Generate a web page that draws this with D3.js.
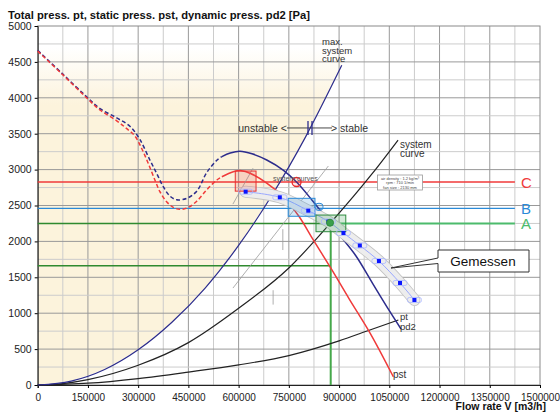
<!DOCTYPE html>
<html>
<head>
<meta charset="utf-8">
<script src="https://cdn.jsdelivr.net/npm/d3@7"></script>
<style>
  body { margin: 0; background: #fff; }
  svg { display: block; font-family: "Liberation Sans", Arial, sans-serif; }
</style>
</head>
<body>
<svg width="560" height="412"></svg>
<script>
// fan curves (flow in m3/h, pressure in Pa)
var ptFlow  = [0, 75000, 146000, 186000, 236000, 276000, 305000, 335000, 355000, 375000, 395000, 415000, 445000, 475000, 505000, 535000, 550000,
               575000, 604000, 640000, 684000, 733000, 773000, 820000, 873000, 903000, 950000, 1000000, 1050000, 1085000];
var ptPress = [4660, 4330, 4015, 3850, 3720, 3600, 3420, 3134, 2950, 2762, 2630, 2580, 2600, 2700, 2960, 3130, 3180,
               3230, 3255, 3220, 3134, 2994, 2827, 2570, 2260, 2080, 1800, 1416, 1035, 780];
var pstFlow  = [0, 75000, 146000, 186000, 236000, 266000, 290000, 310000, 330000, 350000, 365000, 385000, 405000, 425000, 450000, 475000, 505000, 535000, 550000,
                584000, 609000, 634000, 684000, 733000, 780000, 823000, 875000, 930000, 993000, 1062000];
var pstPress = [4650, 4320, 4000, 3830, 3680, 3570, 3470, 3300, 3088, 2855, 2692, 2553, 2474, 2447, 2474, 2560, 2720, 2855, 2900,
                2971, 2985, 2950, 2813, 2623, 2350, 2020, 1630, 1200, 720, 115];
var solidFrom = 550000;

// system curves
var maxSysFlow  = [0, 100000, 200000, 300000, 400000, 500000, 600000, 700000, 800000, 908000];
var maxSysPress = [0, 54, 216, 490, 870, 1350, 1944, 2646, 3456, 4452];
var sysFlow  = [0, 75000, 150000, 300000, 450000, 600000, 750000, 875000, 1000000, 1076000];
var sysPress = [0, 20, 75, 275, 590, 1068, 1630, 2260, 2950, 3410];
var pd2Flow  = [0, 150000, 300000, 450000, 600000, 750000, 900000, 992000, 1077000];
var pd2Press = [0, 25, 90, 180, 280, 410, 615, 766, 905];

// measured points ("Gemessen")
var gemFlow  = [621000, 723000, 808000, 868000, 913000, 962000, 1019000, 1082000, 1125000];
var gemPress = [2692, 2614, 2428, 2277, 2117, 1943, 1727, 1421, 1184];

// reference levels
var levelNames  = ["C", "B", "A"];
var levelPress  = [2827, 2460, 2250];
var levelColors = ["#f03a3a", "#2a8ad8", "#4cbb6c"];
var opFlow = 875000, opPst = 1660;

// boxes [flow0, flow1, p0, p1]
var boxRed   = [590000, 652000, 2700, 2980];
var boxBlue  = [748000, 828000, 2350, 2600];
var boxGreen = [831000, 920000, 2135, 2367];

var xTicks = d3.range(0, 1500001, 150000);
var yTicks = d3.range(0, 5001, 500);

var svg = d3.select("svg");
var x = d3.scaleLinear().domain([0, 1500000]).range([37.7, 540]);
var y = d3.scaleLinear().domain([0, 5000]).range([385, 26]);

function pts(fl, pr) { return fl.map(function (v, i) { return [v, pr[i]]; }); }
var line = d3.line().x(function (d) { return x(d[0]); }).y(function (d) { return y(d[1]); }).curve(d3.curveMonotoneX);
var smooth = d3.line().x(function (d) { return x(d[0]); }).y(function (d) { return y(d[1]); }).curve(d3.curveCatmullRom.alpha(0.5));

// unstable region shading
var defs = svg.append("defs");
var grad = defs.append("linearGradient").attr("id", "fade")
    .attr("gradientUnits", "userSpaceOnUse")
    .attr("x1", 0).attr("x2", 0).attr("y1", y(4700)).attr("y2", y(3900));
grad.append("stop").attr("offset", 0).attr("stop-color", "#fcf3dc").attr("stop-opacity", 0);
grad.append("stop").attr("offset", 1).attr("stop-color", "#fcf3dc").attr("stop-opacity", 1);

var shade = pts(maxSysFlow, maxSysPress);
shade.push([960000, 5000], [0, 5000]);
svg.append("path")
    .attr("d", "M" + shade.map(function (d) { return x(d[0]) + "," + y(d[1]); }).join("L") + "Z")
    .attr("fill", "url(#fade)");

// grid
var g = svg.append("g");
d3.range(75000, 1500000, 75000).forEach(function (v) {
  g.append("line").attr("x1", x(v)).attr("x2", x(v)).attr("y1", y(0)).attr("y2", y(5000))
    .attr("stroke", v % 150000 === 0 ? "#999" : "#cccccc").attr("stroke-width", 1);
});
d3.range(250, 5000, 250).forEach(function (p) {
  g.append("line").attr("x1", x(0)).attr("x2", x(1500000)).attr("y1", y(p)).attr("y2", y(p))
    .attr("stroke", p % 500 === 0 ? "#999" : "#cccccc").attr("stroke-width", 1);
});
svg.append("rect").attr("x", x(0)).attr("y", y(5000)).attr("width", x(1500000) - x(0)).attr("height", y(0) - y(5000))
  .attr("fill", "none").attr("stroke", "#8a8a8a");

// axes
var xAxis = svg.append("g").attr("transform", "translate(0," + y(0) + ")")
  .call(d3.axisBottom(x).tickValues(xTicks).tickFormat(d3.format("d")).tickSize(3));
var yAxis = svg.append("g").attr("transform", "translate(" + x(0) + ",0)")
  .call(d3.axisLeft(y).tickValues(yTicks).tickFormat(d3.format("d")).tickSize(3));
[xAxis, yAxis].forEach(function (a) {
  a.select(".domain").attr("stroke", "#222");
  a.selectAll("text").attr("fill", "#222").attr("font-family", "Liberation Sans, Arial, sans-serif");
});
xAxis.selectAll("text").attr("font-size", 10).attr("dy", "0.95em");
yAxis.selectAll("text").attr("font-size", 10.5);

svg.append("text").attr("x", 8).attr("y", 19).attr("font-size", 11.2).attr("font-weight", "bold").attr("fill", "#111")
  .text("Total press. pt, static press. pst, dynamic press. pd2 [Pa]");
svg.append("text").attr("x", 546).attr("y", 410).attr("text-anchor", "end").attr("font-size", 10.5).attr("font-weight", "bold").attr("fill", "#111")
  .text("Flow rate V [m3/h]");

// reference level lines
var xEnd = 1425000;
svg.append("line").attr("x1", x(0)).attr("x2", x(xEnd)).attr("y1", y(levelPress[0])).attr("y2", y(levelPress[0]))
  .attr("stroke", levelColors[0]).attr("stroke-width", 1.3);
svg.append("line").attr("x1", x(0)).attr("x2", x(xEnd)).attr("y1", y(levelPress[1])).attr("y2", y(levelPress[1]))
  .attr("stroke", levelColors[1]).attr("stroke-width", 1.3);
svg.append("line").attr("x1", x(opFlow)).attr("x2", x(xEnd)).attr("y1", y(levelPress[2])).attr("y2", y(levelPress[2]))
  .attr("stroke", levelColors[2]).attr("stroke-width", 2);
svg.append("line").attr("x1", x(0)).attr("x2", x(opFlow)).attr("y1", y(levelPress[2])).attr("y2", y(levelPress[2]))
  .attr("stroke", "#2f8a2f").attr("stroke-width", 1.5);
svg.append("line").attr("x1", x(0)).attr("x2", x(opFlow)).attr("y1", y(opPst)).attr("y2", y(opPst))
  .attr("stroke", "#2f8a2f").attr("stroke-width", 1.5);
svg.append("line").attr("x1", x(opFlow)).attr("x2", x(opFlow)).attr("y1", y(levelPress[2])).attr("y2", y(0))
  .attr("stroke", "#45a84a").attr("stroke-width", 2);
levelNames.forEach(function (n, i) {
  svg.append("text").attr("x", 521).attr("y", y(levelPress[i]) + 5.5).attr("font-size", 15).attr("fill", levelColors[i]).text(n);
});

// system curves
svg.append("path").attr("d", line(pts(sysFlow, sysPress))).attr("fill", "none").attr("stroke", "#222").attr("stroke-width", 1.2);
svg.append("path").attr("d", line(pts(pd2Flow, pd2Press))).attr("fill", "none").attr("stroke", "#222").attr("stroke-width", 1.2);
svg.append("path").attr("d", line(pts(maxSysFlow, maxSysPress))).attr("fill", "none").attr("stroke", "#2c2c8c").attr("stroke-width", 1.2);

// thin grey helper lines
[[[583000, 2520], [643000, 3020]], [[583000, 1350], [868000, 3050]], [[703000, 1320], [703000, 1120]], [[732000, 2170], [732000, 1880]]].forEach(function (s) {
  svg.append("line").attr("x1", x(s[0][0])).attr("y1", y(s[0][1])).attr("x2", x(s[1][0])).attr("y2", y(s[1][1]))
    .attr("stroke", "#9a9a9a").attr("stroke-width", 0.8);
});

// fan curves
function split(fl, pr, solid) {
  return pts(fl, pr).filter(function (d) { return solid ? d[0] >= solidFrom : d[0] <= solidFrom; });
}
svg.append("path").attr("d", smooth(split(ptFlow, ptPress, false))).attr("fill", "none").attr("stroke", "#2c2c8c")
  .attr("stroke-width", 1.5).attr("stroke-dasharray", "4,2.5");
svg.append("path").attr("d", smooth(split(pstFlow, pstPress, false))).attr("fill", "none").attr("stroke", "#f03a3a")
  .attr("stroke-width", 1.5).attr("stroke-dasharray", "4,2.5");
svg.append("path").attr("d", smooth(split(ptFlow, ptPress, true))).attr("fill", "none").attr("stroke", "#2c2c8c").attr("stroke-width", 1.5);
svg.append("path").attr("d", smooth(split(pstFlow, pstPress, true))).attr("fill", "none").attr("stroke", "#f03a3a").attr("stroke-width", 1.5);

// measured band
var gem = pts(gemFlow, gemPress);
svg.append("path").attr("d", smooth(gem)).attr("fill", "none").attr("stroke", "#c4c4c4").attr("stroke-width", 12).attr("stroke-linecap", "round");
svg.append("path").attr("d", smooth(gem)).attr("fill", "none").attr("stroke", "#fff").attr("stroke-width", 10.4).attr("stroke-opacity", 0.7).attr("stroke-linecap", "round");
svg.append("path").attr("d", smooth(gem)).attr("fill", "none").attr("stroke", "#9aa8ff").attr("stroke-width", 1);

// boxes
function box(b, stroke, fill) {
  svg.append("rect").attr("x", x(b[0])).attr("y", y(b[3])).attr("width", x(b[1]) - x(b[0])).attr("height", y(b[2]) - y(b[3]))
    .attr("fill", fill).attr("stroke", stroke).attr("stroke-width", 1);
}
box(boxRed, "#e83030", "rgba(232,80,80,0.2)");
box(boxBlue, "#2a8ad8", "rgba(42,138,216,0.2)");
svg.append("rect").attr("x", x(boxBlue[1])).attr("y", y(2530)).attr("width", 8).attr("height", 7).attr("rx", 3)
  .attr("fill", "rgba(42,138,216,0.15)").attr("stroke", "#2a8ad8");
box(boxGreen, "#2e8b3e", "rgba(60,160,80,0.22)");

// measured points
gem.forEach(function (d) {
  svg.append("rect").attr("x", x(d[0]) - 7).attr("y", y(d[1]) - 2.5).attr("width", 14).attr("height", 5).attr("rx", 2)
    .attr("fill", "none").attr("stroke", "#a9b6ff").attr("stroke-width", 0.8);
  svg.append("rect").attr("x", x(d[0]) - 2).attr("y", y(d[1]) - 2).attr("width", 4).attr("height", 4).attr("fill", "#0a14ff");
});

// operating markers
svg.append("circle").attr("cx", x(773000)).attr("cy", y(2827)).attr("r", 4.5).attr("fill", "rgba(240,60,60,0.15)").attr("stroke", "#e82828").attr("stroke-width", 1.3);
svg.append("circle").attr("cx", x(873000)).attr("cy", y(2260)).attr("r", 3.5).attr("fill", "#3aa04a").attr("stroke", "#2e8b3e");

// labels
function label(txt, lx, ly, size, color, anchor) {
  svg.append("text").attr("x", lx).attr("y", ly).attr("font-size", size).attr("fill", color || "#333")
    .attr("text-anchor", anchor || "start").text(txt);
}
label("max.", 322, 45, 9.5);
label("system", 322, 53.5, 9.5);
label("curve", 322, 62, 9.5);
label("system", 400, 148, 10);
label("curve", 400, 156.5, 10);
label("system curves", 273, 180.5, 7, "#555");
label("pt", 400, 320, 9.5);
label("pd2", 400, 330, 9.5);
label("pst", 393, 378, 10);
label("unstable <", 287, 132, 10.5, "#333", "end");
label("> stable", 331, 132, 10.5, "#333");
var arrowY = y(3580);
svg.append("line").attr("x1", 287).attr("x2", 332).attr("y1", arrowY).attr("y2", arrowY).attr("stroke", "#333").attr("stroke-width", 0.9);
[308, 312].forEach(function (bx) {
  svg.append("line").attr("x1", bx).attr("x2", bx).attr("y1", arrowY - 7).attr("y2", arrowY + 7).attr("stroke", "#2c2c8c").attr("stroke-width", 1.3);
});

// info box
svg.append("rect").attr("x", 377.5).attr("y", 175).attr("width", 45).attr("height", 15).attr("fill", "#fff").attr("stroke", "#999").attr("stroke-width", 0.8);
["air density : 1.2 kg/m\u00b3", "rpm : 710 1/min", "fan size : 2130 mm"].forEach(function (t, i) {
  label(t, 400, 179.8 + i * 4.6, 4, "#444", "middle");
});

// callout
svg.append("path").attr("d", "M438,250 H529 V272 H438 V263.5 L391,268 L438,258 Z")
  .attr("fill", "#fff").attr("stroke", "#333").attr("stroke-width", 1);
label("Gemessen", 483, 266, 13.5, "#111", "middle");
</script>
</body>
</html>
